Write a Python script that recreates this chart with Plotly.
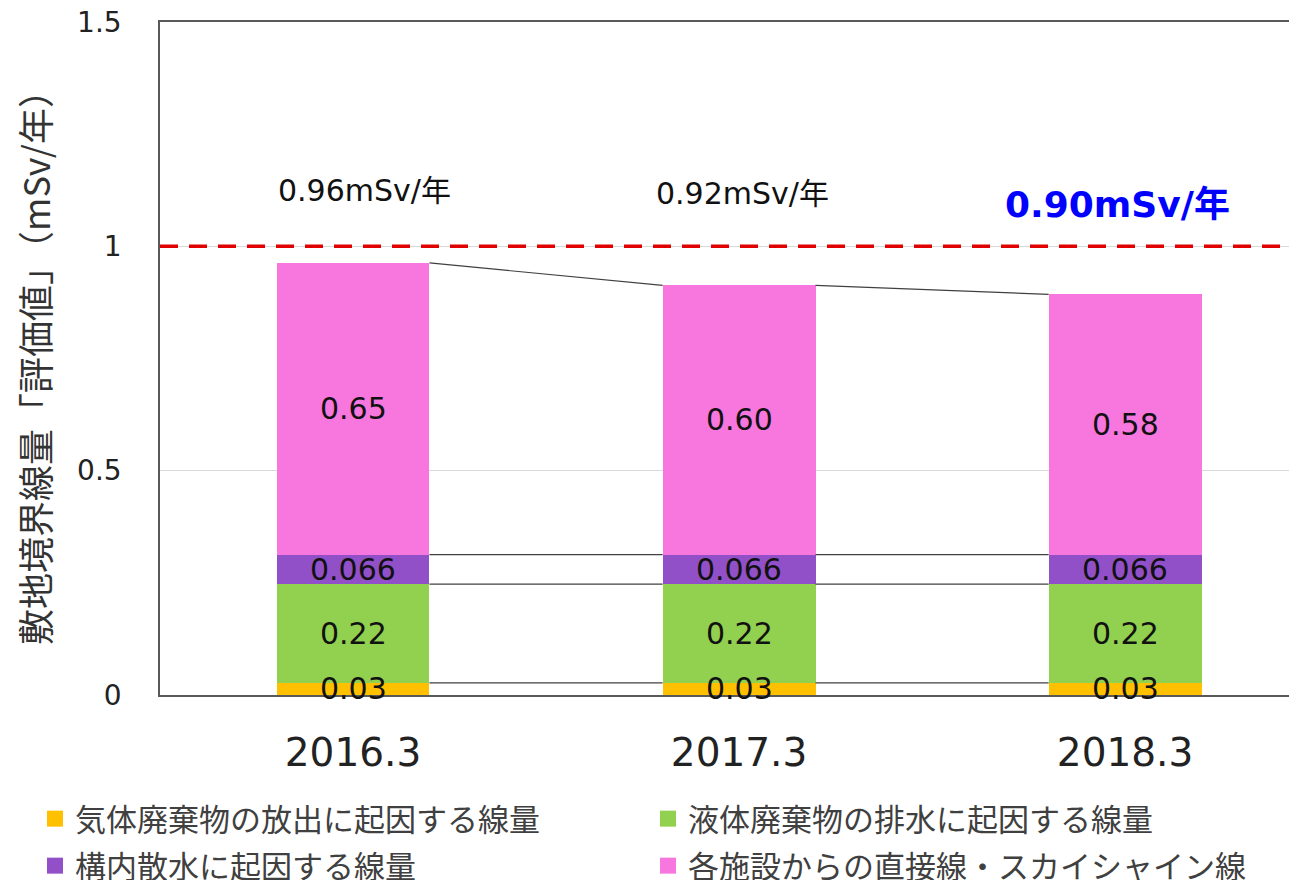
import plotly.graph_objects as go
import numpy as np

categories = ["2016.3", "2017.3", "2018.3"]
series_names = [
    "気体廃棄物の放出に起因する線量",
    "液体廃棄物の排水に起因する線量",
    "構内散水に起因する線量",
    "各施設からの直接線・スカイシャイン線",
]
gas_vals = [0.027, 0.027, 0.027]
liquid_vals = [0.22, 0.22, 0.22]
spray_vals = [0.066, 0.066, 0.066]
direct_vals = [0.65, 0.60, 0.58]
gas_text = ["0.03", "0.03", "0.03"]
liquid_text = ["0.22", "0.22", "0.22"]
spray_text = ["0.066", "0.066", "0.066"]
direct_text = ["0.65", "0.60", "0.58"]
total_text = ["0.96mSv/年", "0.92mSv/年", "0.90mSv/年"]
limit_value = 1.0
y_ticks = [0, 0.5, 1, 1.5]
y_tick_text = ["0", "0.5", "1", "1.5"]

colors = ["#FFC000", "#92D050", "#9150C8", "#F777DE"]
CJK = "Noto Sans CJK JP"
NUM = "DejaVu Sans, Noto Sans CJK JP"
series_vals = [gas_vals, liquid_vals, spray_vals, direct_vals]
series_text = [gas_text, liquid_text, spray_text, direct_text]
legend_ids = ["legend", "legend2", "legend3", "legend4"]

fig = go.Figure()
for name, vals, col in zip(series_names, series_vals, colors):
    fig.add_trace(go.Bar(
        x=categories, y=vals, name=name,
        marker=dict(color=col, line=dict(width=0)),
        showlegend=False,
    ))
# legend entries (square markers)
for name, col, lg in zip(series_names, colors, legend_ids):
    fig.add_trace(go.Scatter(
        x=[None], y=[None], mode="markers", name=name,
        marker=dict(symbol="square", size=16, color=col),
        legend=lg, showlegend=True,
    ))

BAR_W = 0.396
cum = np.cumsum(np.array(series_vals), axis=0)
bottoms = np.vstack([np.zeros(len(categories)), cum[:-1]])

annotations = []
for s in range(len(series_vals)):
    for i in range(len(categories)):
        mid = bottoms[s][i] + series_vals[s][i] / 2
        annotations.append(dict(
            x=i, y=mid, xref="x", yref="y", text=series_text[s][i],
            showarrow=False, font=dict(family=NUM, size=30, color="#111111"),
        ))

total_pos = [(0.03, 1.125), (1.01, 1.117)]
for (xp, yp), t in zip(total_pos, total_text[:2]):
    annotations.append(dict(x=xp, y=yp, xref="x", yref="y", text=t, showarrow=False,
                            font=dict(family=NUM, size=30, color="#111111")))
annotations.append(dict(x=1.98, y=1.094, xref="x", yref="y", text="<b>" + total_text[2] + "</b>",
                        showarrow=False, font=dict(family=NUM, size=36, color="#0000FF")))

shapes = []
shapes.append(dict(type="line", xref="paper", yref="y", x0=0, x1=1, y0=limit_value, y1=limit_value,
                   line=dict(color="#E00000", width=3.5, dash="18px,11px"), layer="above"))
for s in range(len(series_vals)):
    for i in range(len(categories) - 1):
        shapes.append(dict(type="line", xref="x", yref="y",
                           x0=i + BAR_W / 2, x1=i + 1 - BAR_W / 2,
                           y0=cum[s][i], y1=cum[s][i + 1],
                           line=dict(color="#404040", width=1.2)))

def legend_box(xpx, ytop):
    return dict(orientation="h", xref="container", yref="container",
                x=xpx / 1297, y=1 - ytop / 880, xanchor="left", yanchor="top",
                font=dict(family=CJK, size=31, color="#404040"),
                bgcolor="rgba(0,0,0,0)", itemsizing="trace")

fig.update_layout(
    barmode="stack",
    bargap=1 - BAR_W,
    width=1297, height=880,
    margin=dict(l=152, r=0, t=14, b=193, autoexpand=False),
    plot_bgcolor="white", paper_bgcolor="white",
    font=dict(family=CJK, color="#222222"),
    annotations=annotations,
    shapes=shapes,
    legend=legend_box(27, 784),
    legend2=legend_box(640, 784),
    legend3=legend_box(27, 831),
    legend4=legend_box(640, 831),
    showlegend=True,
)
fig.update_xaxes(
    range=[-0.5, 2.466], showline=True, linecolor="#595959", linewidth=1.5, mirror=True,
    showgrid=False, ticks="", tickfont=dict(family=NUM, size=39, color="#222222"),
    ticklabelstandoff=22, fixedrange=True, automargin=False,
)
fig.update_yaxes(
    range=[0, 1.5], tickvals=y_ticks, ticktext=y_tick_text,
    showline=True, linecolor="#595959", linewidth=1.5, mirror=False,
    showgrid=True, gridcolor="#D9D9D9", gridwidth=1, zeroline=False,
    ticks="", tickfont=dict(family=NUM, size=28, color="#222222"),
    ticklabelstandoff=31, ticklabeloverflow="allow",
    title=dict(text="敷地境界線量「評価値」（mSv/年）", standoff=28,
               font=dict(family=CJK, size=36, color="#333333")),
    fixedrange=True, automargin=False,
)

fig.write_html("out.html")
